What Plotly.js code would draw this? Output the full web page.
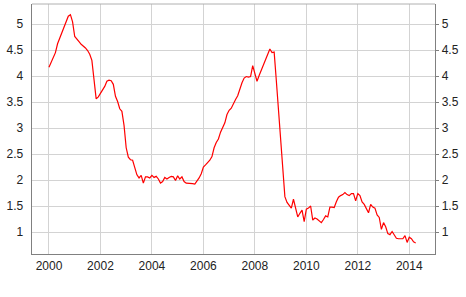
<!DOCTYPE html>
<html>
<head>
<meta charset="utf-8">
<script src="https://cdn.plot.ly/plotly-3.0.1.min.js"></script>
<style>html,body{margin:0;padding:0;background:#fff;}#chart{width:466px;height:297px;}</style>
</head>
<body>
<div id="chart"></div>
<script>
// Monthly values, Jan..Dec
const v2000 = [4.17, 4.27, 4.37, 4.45, 4.62, 4.72, 4.83, 4.95, 5.05, 5.15, 5.18, 5.04];
const v2001 = [4.76, 4.70, 4.66, 4.61, 4.58, 4.54, 4.49, 4.42, 4.30, 3.95, 3.56, 3.60];
const v2002 = [3.66, 3.72, 3.80, 3.90, 3.92, 3.91, 3.84, 3.61, 3.51, 3.37, 3.32, 3.05];
const v2003 = [2.62, 2.44, 2.39, 2.38, 2.25, 2.10, 2.04, 2.09, 1.94, 2.06, 2.06, 2.04];
const v2004 = [2.09, 2.05, 2.07, 2.02, 1.94, 1.97, 2.05, 2.02, 2.05, 2.07, 2.06, 1.99];
const v2005 = [2.08, 2.02, 2.06, 1.97, 1.94, 1.94, 1.94, 1.93, 1.92, 1.97, 2.04, 2.12];
const v2006 = [2.25, 2.29, 2.33, 2.38, 2.45, 2.62, 2.72, 2.79, 2.92, 3.02, 3.10, 3.26];
const v2007 = [3.34, 3.38, 3.48, 3.55, 3.62, 3.76, 3.87, 3.96, 3.99, 3.98, 3.99, 4.20];
const v2008 = [4.06, 3.90, 4.01, 4.11, 4.20, 4.30, 4.42, 4.52, 4.45, 4.46, 3.92, 3.33];
const v2009 = [2.73, 2.13, 1.68, 1.57, 1.52, 1.46, 1.63, 1.46, 1.29, 1.36, 1.42, 1.20];
const v2010 = [1.44, 1.46, 1.50, 1.23, 1.27, 1.25, 1.22, 1.18, 1.24, 1.31, 1.29, 1.48];
const v2011 = [1.48, 1.47, 1.58, 1.67, 1.70, 1.72, 1.76, 1.72, 1.70, 1.74, 1.74, 1.60];
const v2012 = [1.74, 1.70, 1.58, 1.53, 1.45, 1.37, 1.53, 1.48, 1.46, 1.33, 1.28, 1.05];
const v2013 = [1.18, 1.10, 0.97, 0.95, 1.01, 0.93, 0.88, 0.87, 0.87, 0.87, 0.93, 0.80];
const v2014 = [0.90, 0.87, 0.81, 0.79];

const years = [2000, 2001, 2002, 2003, 2004, 2005, 2006, 2007, 2008, 2009, 2010, 2011, 2012, 2013, 2014];
const series = [v2000, v2001, v2002, v2003, v2004, v2005, v2006, v2007, v2008, v2009, v2010, v2011, v2012, v2013, v2014];
const xTicks = [2000, 2002, 2004, 2006, 2008, 2010, 2012, 2014];
const xTickText = ['2000', '2002', '2004', '2006', '2008', '2010', '2012', '2014'];
const yTicks = [1, 1.5, 2, 2.5, 3, 3.5, 4, 4.5, 5];
const yTickText = ['1', '1.5', '2', '2.5', '3', '3.5', '4', '4.5', '5'];

const x = [], y = [];
series.forEach((arr, k) => {
  arr.forEach((v, m) => { x.push(years[k] + m / 12); y.push(v); });
});

const yRange = [0.577, 5.385];
const fontSpec = {family: 'Liberation Sans, Arial, sans-serif', size: 12, color: '#222'};

const trace = {
  x: x, y: y, type: 'scatter', mode: 'lines',
  line: {color: '#ff0000', width: 1.2},
  hoverinfo: 'skip', showlegend: false
};
const traceR = {
  x: [x[0]], y: [y[0]], yaxis: 'y2', type: 'scatter', mode: 'lines',
  line: {color: 'rgba(0,0,0,0)', width: 0}, showlegend: false, hoverinfo: 'skip'
};

const layout = {
  width: 466, height: 297,
  margin: {l: 32, r: 31, t: 4, b: 43, pad: 0},
  paper_bgcolor: '#fff', plot_bgcolor: '#fff',
  font: fontSpec,
  showlegend: false,
  xaxis: {
    range: [1999.34, 2015.0], tickmode: 'array', tickvals: xTicks, ticktext: xTickText,
    showgrid: true, gridcolor: '#d3d3d3', gridwidth: 1,
    showline: true, linecolor: '#808080', linewidth: 1.3,
    ticks: '', zeroline: false, tickfont: fontSpec, fixedrange: true
  },
  yaxis: {
    range: yRange, tickmode: 'array', tickvals: yTicks, ticktext: yTickText,
    showgrid: true, gridcolor: '#d3d3d3', gridwidth: 1,
    showline: true, linecolor: '#808080', linewidth: 1.3,
    ticks: '', ticklabelstandoff: 5, zeroline: false, tickfont: fontSpec, fixedrange: true
  },
  yaxis2: {
    overlaying: 'y', side: 'right', range: yRange,
    tickmode: 'array', tickvals: yTicks, ticktext: yTickText,
    showgrid: false, showline: true, linecolor: '#808080', linewidth: 1.3,
    ticks: 'outside', ticklen: 3, tickcolor: '#808080', zeroline: false,
    tickfont: fontSpec, fixedrange: true
  },
  shapes: [{
    type: 'line', xref: 'paper', yref: 'paper', x0: 0, x1: 1, y0: 1, y1: 1,
    line: {color: '#b0b0b0', width: 1}
  }]
};

Plotly.newPlot('chart', [trace, traceR], layout, {staticPlot: true, displayModeBar: false});
</script>
</body>
</html>
